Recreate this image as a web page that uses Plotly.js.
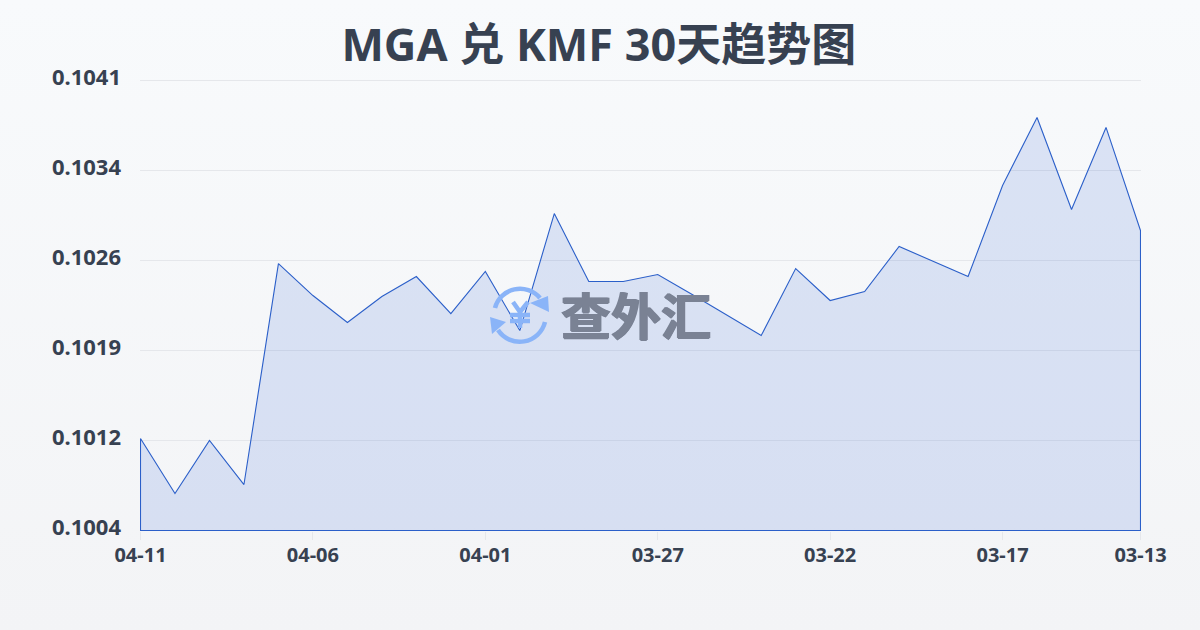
<!DOCTYPE html>
<html><head><meta charset="utf-8">
<script src="https://cdn.plot.ly/plotly-3.0.1.min.js"></script>
<style>html,body{margin:0;padding:0;width:1200px;height:630px;overflow:hidden;background:linear-gradient(180deg,#f8fafc 0%,#f3f4f6 100%)}#c{width:1200px;height:630px}</style>
</head><body><div id="c"></div>
<script>
const dates=['04-11','04-10','04-09','04-08','04-07','04-06','04-05','04-04','04-03','04-02','04-01','03-31','03-30','03-29','03-28','03-27','03-26','03-25','03-24','03-23','03-22','03-21','03-20','03-19','03-18','03-17','03-16','03-15','03-14','03-13'];
const rates=[0.101156,0.100704,0.10114,0.100778,0.102595,0.102332,0.10211,0.102324,0.102488,0.102184,0.10253,0.102044,0.103006,0.102447,0.102447,0.102505,0.10234,0.102168,0.102003,0.102554,0.102291,0.102365,0.102735,0.102612,0.102488,0.103237,0.103796,0.103039,0.103714,0.102867];
const xTicks=['04-11','04-06','04-01','03-27','03-22','03-17','03-13'];
const yTickVals=[0.1004,0.10114,0.10188,0.10262,0.10336,0.1041];
const yTickText=['0.1004','0.1012','0.1019','0.1026','0.1034','0.1041'];
const titleText='MGA 兑 KMF 30天趋势图';
const watermark='查外汇';
const FONT='"Noto Sans","Noto Sans CJK SC",sans-serif';
const CJK='"Noto Sans CJK SC",sans-serif';
const INK='#374151';
const idx=dates.map((d,i)=>i);
const logo='<svg xmlns="http://www.w3.org/2000/svg" width="70" height="70" viewBox="0 0 70 70"><g fill="none" stroke="#8ab4f8" stroke-width="4.5"><path d="M10 28A26 26 0 0 1 55 18"/><path d="M60 42A26 26 0 0 1 13 50"/></g><path d="M64 32L45 23L63 16Z" fill="#8ab4f8"/><path d="M5 37L21 42L7 54Z" fill="#8ab4f8"/><path d="M28 22L35 32L43 22M35 32V48M25 35H45M25 41H45" fill="none" stroke="#8ab4f8" stroke-width="4.5"/></svg>';
Plotly.newPlot('c',[{
  x:idx.concat([idx[idx.length-1],0,0]),
  y:rates.concat([yTickVals[0],yTickVals[0],rates[0]]),
  type:'scatter',mode:'lines',fill:'toself',fillcolor:'rgba(40,92,215,0.14)',cliponaxis:false,
  line:{color:'#2b5fc9',width:1.1},hoverinfo:'skip'
}],{
  width:1200,height:630,autosize:false,
  paper_bgcolor:'rgba(0,0,0,0)',plot_bgcolor:'rgba(0,0,0,0)',
  margin:{l:140,r:59,t:78,b:99},showlegend:false,
  title:{text:titleText,font:{family:FONT,size:45,color:INK,weight:700},x:0.499,xanchor:'center',y:0.928,yanchor:'middle'},
  xaxis:{type:'linear',range:[-0.0145,29.0145],tickmode:'array',tickvals:xTicks.map(t=>dates.indexOf(t)),ticktext:xTicks,
    showgrid:false,zeroline:false,showline:false,ticks:'outside',ticklen:8,tickcolor:'#e5e7eb',tickwidth:1,ticklabelstandoff:-2,
    tickfont:{family:FONT,size:20,color:INK,weight:700},tickangle:0},
  yaxis:{range:[0.100396,0.1041206],tickmode:'array',tickvals:yTickVals,ticktext:yTickText,
    showgrid:true,gridcolor:'#e5e7eb',gridwidth:1,zeroline:false,showline:false,ticks:'',ticklabelstandoff:18,ticklabelshift:-3,
    tickfont:{family:FONT,size:22,color:INK,weight:700}},
  images:[{source:'data:image/svg+xml;charset=utf-8,'+encodeURIComponent(logo),xref:'paper',yref:'paper',x:(485-140)/1001,y:1-(280-78)/453,sizex:70/1001,sizey:70/453,xanchor:'left',yanchor:'top',layer:'above'}],
  annotations:[{text:watermark,xref:'paper',yref:'paper',x:(636-140)/1001,y:1-(313-78)/453,xanchor:'center',yanchor:'middle',showarrow:false,font:{family:CJK,size:50,color:'#7a8294',weight:700,shadow:'1px 0 0 #7a8294, -1px 0 0 #7a8294, 0 1px 0 #7a8294'}}]
},{displayModeBar:false,responsive:false});
</script></body></html>
